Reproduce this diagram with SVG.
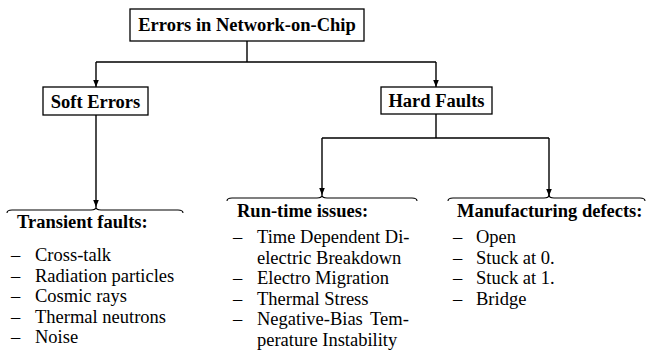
<svg xmlns="http://www.w3.org/2000/svg" width="646" height="363" viewBox="0 0 646 363">
<defs>
<marker id="arr" viewBox="0 0 10 8" refX="10" refY="4" markerWidth="7" markerHeight="9" markerUnits="userSpaceOnUse" orient="auto">
<path d="M0,0 L10,4 L0,8 z" fill="#000"/>
</marker>
<style>
.box{fill:#fff;stroke:#000;stroke-width:1.3}
.ln{fill:none;stroke:#000;stroke-width:1.4}
.br{fill:none;stroke:#000;stroke-width:1.1}
.t{font-size:18.5px;fill:#000}
.b{font-weight:bold}
.c{text-anchor:middle}
</style>
</defs>
<rect width="646" height="363" fill="#fff"/>
<g id="connectors">
<path class="ln" d="M247,41 V62 M96,62 H436"/>
<path class="ln" d="M96,62 V87" marker-end="url(#arr)"/>
<path class="ln" d="M436,62 V87" marker-end="url(#arr)"/>
<path class="ln" d="M96,115 V207" marker-end="url(#arr)"/>
<path class="ln" d="M436,114 V138 M322,138 H549"/>
<path class="ln" d="M322,138 V195" marker-end="url(#arr)"/>
<path class="ln" d="M549,138 V196" marker-end="url(#arr)"/>
</g>
<g font-family="Liberation Serif, DejaVu Serif, Times New Roman, serif">
<g id="root">
<rect class="box" x="130" y="9" width="234" height="32"/>
<text class="t b c" x="247" y="31">Errors in Network-on-Chip</text>
</g>
<g id="soft">
<rect class="box" x="43" y="87" width="105" height="28"/>
<text class="t b c" x="95.5" y="107.5">Soft Errors</text>
</g>
<g id="hard">
<rect class="box" x="381" y="87" width="111" height="27"/>
<text class="t b c" x="436.5" y="107">Hard Faults</text>
</g>
<g id="transient">
<path class="br" d="M7,213 Q7,210 12,210 L91,210 Q96,210 96,207 Q96,210 101,210 L178,210 Q183,210 183,213"/>
<text class="t b" x="17" y="228">Transient faults:</text>
<text class="t" x="11" y="261">–</text><text class="t" x="35" y="261">Cross-talk</text>
<text class="t" x="11" y="281.5">–</text><text class="t" x="35" y="281.5">Radiation particles</text>
<text class="t" x="11" y="302">–</text><text class="t" x="35" y="302">Cosmic rays</text>
<text class="t" x="11" y="322.5">–</text><text class="t" x="35" y="322.5">Thermal neutrons</text>
<text class="t" x="11" y="343">–</text><text class="t" x="35" y="343">Noise</text>
</g>
<g id="runtime">
<path class="br" d="M227,201 Q227,198 232,198 L317,198 Q322,198 322,195 Q322,198 327,198 L412,198 Q417,198 417,201"/>
<text class="t b" x="237" y="217">Run-time issues:</text>
<text class="t" x="233" y="243">–</text><text class="t" x="257" y="243">Time Dependent Di-</text>
<text class="t" x="257" y="263.5">electric Breakdown</text>
<text class="t" x="233" y="284">–</text><text class="t" x="257" y="284">Electro Migration</text>
<text class="t" x="233" y="304.5">–</text><text class="t" x="257" y="304.5">Thermal Stress</text>
<text class="t" x="233" y="325">–</text><text class="t" x="257" y="325" word-spacing="3">Negative-Bias Tem-</text>
<text class="t" x="257" y="345.5">perature Instability</text>
</g>
<g id="manufacturing">
<path class="br" d="M448,201 Q448,198 453,198 L544,198 Q549,198 549,195 Q549,198 554,198 L640,198 Q645,198 645,201"/>
<text class="t b" x="457" y="217">Manufacturing defects:</text>
<text class="t" x="453" y="243">–</text><text class="t" x="476" y="243">Open</text>
<text class="t" x="453" y="263.5">–</text><text class="t" x="476" y="263.5">Stuck at 0.</text>
<text class="t" x="453" y="284">–</text><text class="t" x="476" y="284">Stuck at 1.</text>
<text class="t" x="453" y="304.5">–</text><text class="t" x="476" y="304.5">Bridge</text>
</g>
</g>
</svg>
